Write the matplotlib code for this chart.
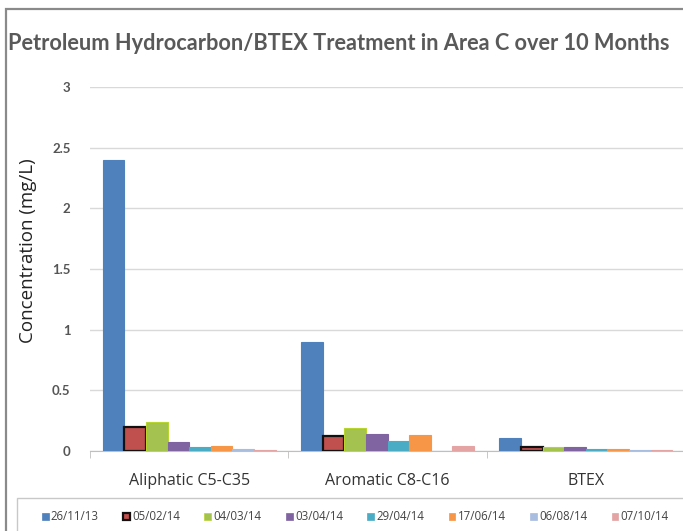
import numpy as np
import matplotlib
matplotlib.use('Agg')
import matplotlib.pyplot as plt
from matplotlib.patches import Rectangle, Patch

categories = ['Aliphatic C5-C35', 'Aromatic C8-C16', 'BTEX']
dates = ['26/11/13', '05/02/14', '04/03/14', '03/04/14', '29/04/14', '17/06/14', '06/08/14', '07/10/14']
# one list per sampling date: [aliphatic, aromatic, btex]
d_261113 = [2.40, 0.90, 0.105]
d_050214 = [0.20, 0.125, 0.035]
d_040314 = [0.235, 0.19, 0.035]
d_030414 = [0.075, 0.14, 0.035]
d_290414 = [0.035, 0.08, 0.015]
d_170614 = [0.04, 0.13, 0.015]
d_060814 = [0.02, 0.0, 0.01]
d_071014 = [0.01, 0.045, 0.008]
series = [d_261113, d_050214, d_040314, d_030414, d_290414, d_170614, d_060814, d_071014]

face = ['#4f81bd', '#c0504d', '#a3c24f', '#8064a2', '#4bacc6', '#f79646', '#a9bde0', '#e4a4a4']
edge = ['#4f81bd', '#111111', '#b8d52f', '#8064a2', '#4bacc6', '#f79646', '#a9bde0', '#e4a4a4']
yticks = [0, 0.5, 1, 1.5, 2, 2.5, 3]
ytick_labels = ['0', '0.5', '1', '1.5', '2', '2.5', '3']

W, H = 683, 531
fig = plt.figure(figsize=(W / 100, H / 100), dpi=100)
fig.patch.set_facecolor('white')

# outer chart frame and legend frame
fig.add_artist(Rectangle((6 / W, -0.05), 1.1, 1 - 9 / H + 0.05, transform=fig.transFigure,
                         fill=False, edgecolor='#8a8a8a', lw=1.6))
fig.add_artist(Rectangle((17 / W, -0.05), 1.1, 1 - 498 / H + 0.05, transform=fig.transFigure,
                         fill=False, edgecolor='#c8c8c8', lw=1.0))

ax = fig.add_axes([90 / W, 80 / H, 595 / W, 364 / H])
x = np.arange(len(categories))
bw = 0.109
n = len(series)
for i, vals in enumerate(series):
    off = (i - (n - 1) / 2) * bw
    ax.bar(x + off, vals, bw, color=face[i], edgecolor=edge[i],
           linewidth=1.6 if i == 1 else 0.8, label=dates[i], zorder=3)

ax.set_xlim(-0.5, 2.5)
ax.set_ylim(0, 3)
ax.set_yticks(yticks)
ax.set_yticklabels(ytick_labels, fontdict={'family': 'Lato', 'weight': 'bold', 'size': 9.5, 'color': '#555555'})
ax.yaxis.grid(True, color='#d9d9d9', lw=1.0, zorder=0)
ax.tick_params(axis='y', length=0, pad=14)
ax.set_xticks(x)
ax.set_xticklabels(categories, fontdict={'family': 'Open Sans', 'size': 11.5, 'color': '#333333'})
ax.set_xticks([-0.5, 0.5, 1.5, 2.5], minor=True)
ax.tick_params(axis='x', which='major', length=0, pad=16)
ax.tick_params(axis='x', which='minor', length=5, color='#bfbfbf', direction='out')
for s in ['left', 'right', 'top']:
    ax.spines[s].set_visible(False)
ax.spines['bottom'].set_color('#bfbfbf')
ax.set_ylabel('Concentration (mg/L)', family='Open Sans', size=13.5, color='#222222')
ax.yaxis.set_label_coords(-(90 - 37) / 595, 0.55)

fig.text(8 / W, 1 - 44 / H, 'Petroleum Hydrocarbon/BTEX Treatment in Area C over 10 Months',
         family='Lato', weight='bold', size=15.7, color='#595959', va='center', ha='left')

handles = [Patch(facecolor=face[i], edgecolor=edge[i], linewidth=1.6 if i == 1 else 0.5) for i in range(n)]
fig.legend(handles, dates, loc='center left', bbox_to_anchor=(37 / W, 1 - 517 / H), ncol=8,
           frameon=False, prop={'family': 'Open Sans', 'size': 8.3}, labelcolor='#444444',
           handlelength=0.6, handleheight=0.6, handletextpad=0.2, columnspacing=2.1, borderaxespad=0)

fig.savefig('out.png', dpi=100)
